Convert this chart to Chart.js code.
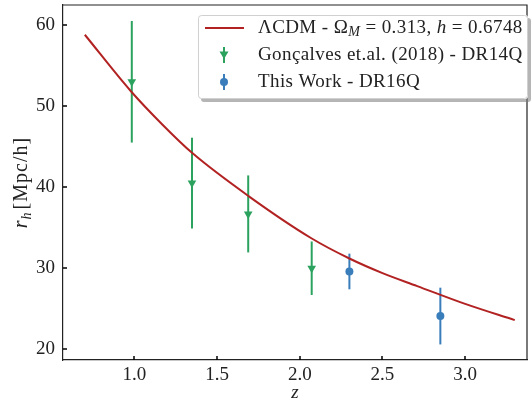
<!DOCTYPE html>
<html><head><meta charset="utf-8">
<script src="https://cdn.jsdelivr.net/npm/chart.js@4/dist/chart.umd.min.js"></script>
<style>html,body{margin:0;padding:0;background:#fff}#wrap{width:532px;height:403px}</style>
</head><body><div id="wrap"><canvas id="c" width="532" height="403"></canvas></div>
<script>
// ΛCDM model curve
const modelZ = [0.70, 0.98, 1.17, 1.35, 1.69, 2.07, 2.30, 2.50, 2.71, 3.00, 3.30];
const modelR = [58.8, 51.8, 47.7, 44.2, 38.9, 33.7, 31.2, 29.4, 27.8, 25.6, 23.6];
// Gonçalves et al. (2018) - DR14Q
const dr14Z = [0.984, 1.348, 1.688, 2.072];
const dr14R = [53.0, 40.5, 36.7, 30.0];
const dr14Err = [7.5, 5.6, 4.75, 3.3];
// This work - DR16Q
const dr16Z = [2.30, 2.85];
const dr16R = [29.6, 24.1];
const dr16Err = [2.2, 3.5];
// ticks
const xTicks = [1.0, 1.5, 2.0, 2.5, 3.0];
const yTicks = [20, 30, 40, 50, 60];

const RED = '#b22222', GREEN = '#2ca25f', BLUE = '#3a7dbb';
const FONT = '"Liberation Serif", "DejaVu Serif", serif';

const pts = (xs, ys) => xs.map((x, i) => ({x, y: ys[i]}));

const errPlugin = {
  id: 'errbars',
  beforeDatasetsDraw(chart) {
    const {ctx, scales: {x, y}} = chart;
    ctx.save();
    ctx.lineWidth = 2;
    const draw = (zs, rs, es, col) => {
      ctx.strokeStyle = col;
      zs.forEach((z, i) => {
        const px = x.getPixelForValue(z);
        ctx.beginPath();
        ctx.moveTo(px, y.getPixelForValue(rs[i] + es[i]));
        ctx.lineTo(px, y.getPixelForValue(rs[i] - es[i]));
        ctx.stroke();
      });
    };
    draw(dr14Z, dr14R, dr14Err, GREEN);
    draw(dr16Z, dr16R, dr16Err, BLUE);
    ctx.restore();
  },
  afterDraw(chart) {
    const {ctx, scales: {x, y}, chartArea: ca} = chart;
    ctx.save();
    // frame top/right
    ctx.strokeStyle = '#222'; ctx.lineWidth = 1.2;
    ctx.beginPath(); ctx.moveTo(ca.left, ca.top); ctx.lineTo(ca.right, ca.top); ctx.lineTo(ca.right, ca.bottom); ctx.stroke();
    // inward ticks
    ctx.strokeStyle = '#000'; ctx.lineWidth = 1.5;
    xTicks.forEach(v => {
      const px = Math.round(x.getPixelForValue(v));
      ctx.beginPath(); ctx.moveTo(px, ca.bottom); ctx.lineTo(px, ca.bottom - 4); ctx.stroke();
    });
    yTicks.forEach(v => {
      const py = Math.round(y.getPixelForValue(v));
      ctx.beginPath(); ctx.moveTo(ca.left, py); ctx.lineTo(ca.left + 4, py); ctx.stroke();
    });
    // axis titles
    ctx.fillStyle = '#222';
    ctx.textBaseline = 'alphabetic';
    ctx.font = 'italic 19px ' + FONT;
    ctx.textAlign = 'center';
    ctx.fillText('z', (ca.left + ca.right) / 2, 398);
    // y title rotated
    ctx.save();
    ctx.translate(27, (ca.top + ca.bottom) / 2);
    ctx.rotate(-Math.PI / 2);
    ctx.letterSpacing = '1px';
    const parts = [
      {t: 'r', f: 'italic 20px ' + FONT, dy: 0},
      {t: 'h', f: 'italic 14px ' + FONT, dy: 4},
      {t: '[Mpc/h]', f: '20px ' + FONT, dy: 0}
    ];
    let w = 0;
    parts.forEach(p => { ctx.font = p.f; w += ctx.measureText(p.t).width; });
    w += 2;
    let cx = -w / 2;
    ctx.textAlign = 'left';
    parts.forEach((p, i) => {
      ctx.font = p.f; ctx.fillText(p.t, cx, p.dy);
      cx += ctx.measureText(p.t).width + (i === 1 ? 2 : 0);
    });
    ctx.restore();

    // legend
    const bx = 198, by = 15, bw = 330, bh = 84;
    const rr = (X, Y, W, H, R) => {
      ctx.beginPath();
      ctx.moveTo(X + R, Y); ctx.lineTo(X + W - R, Y); ctx.quadraticCurveTo(X + W, Y, X + W, Y + R);
      ctx.lineTo(X + W, Y + H - R); ctx.quadraticCurveTo(X + W, Y + H, X + W - R, Y + H);
      ctx.lineTo(X + R, Y + H); ctx.quadraticCurveTo(X, Y + H, X, Y + H - R);
      ctx.lineTo(X, Y + R); ctx.quadraticCurveTo(X, Y, X + R, Y); ctx.closePath();
    };
    ctx.fillStyle = 'rgba(120,120,120,0.55)';
    rr(bx + 3, by + 3, bw, bh, 3); ctx.fill();
    ctx.fillStyle = '#fff';
    rr(bx, by, bw, bh, 3); ctx.fill();
    ctx.strokeStyle = '#d0d0d0'; ctx.lineWidth = 1;
    rr(bx + 0.5, by + 0.5, bw - 1, bh - 1, 3); ctx.stroke();

    const rows = [28, 55, 82];
    ctx.strokeStyle = RED; ctx.lineWidth = 2;
    ctx.beginPath(); ctx.moveTo(205, rows[0]); ctx.lineTo(244, rows[0]); ctx.stroke();
    ctx.strokeStyle = GREEN; ctx.lineWidth = 2;
    ctx.beginPath(); ctx.moveTo(224, rows[1] - 8); ctx.lineTo(224, rows[1] + 8); ctx.stroke();
    ctx.fillStyle = GREEN;
    ctx.beginPath(); ctx.moveTo(219.5, rows[1] - 3.5); ctx.lineTo(228.5, rows[1] - 3.5); ctx.lineTo(224, rows[1] + 4); ctx.closePath(); ctx.fill();
    ctx.strokeStyle = BLUE;
    ctx.beginPath(); ctx.moveTo(224, rows[2] - 8); ctx.lineTo(224, rows[2] + 8); ctx.stroke();
    ctx.fillStyle = BLUE;
    ctx.beginPath(); ctx.arc(224, rows[2], 4, 0, Math.PI * 2); ctx.fill();

    ctx.fillStyle = '#222';
    ctx.textAlign = 'left'; ctx.textBaseline = 'middle';
    ctx.letterSpacing = '0.4px';
    const run = (segs, x0, yy) => {
      let xx = x0;
      segs.forEach(s => {
        ctx.font = s.f;
        ctx.fillText(s.t, xx, yy + (s.dy || 0));
        xx += ctx.measureText(s.t).width;
      });
    };
    const R = '19px ' + FONT, I = 'italic 19px ' + FONT, S = 'italic 14px ' + FONT;
    run([{t: 'ΛCDM - Ω', f: R}, {t: 'M', f: S, dy: 4}, {t: ' = 0.313, ', f: R}, {t: 'h', f: I}, {t: ' = 0.6748', f: R}], 258, rows[0]);
    run([{t: 'Gonçalves et.al. (2018) - DR14Q', f: R}], 258, rows[1]);
    run([{t: 'This Work - DR16Q', f: R}], 258, rows[2]);
    ctx.restore();
  }
};

new Chart(document.getElementById('c'), {
  type: 'scatter',
  data: {
    datasets: [
      {label: 'model', type: 'line', data: pts(modelZ, modelR), borderColor: RED, borderWidth: 2,
       pointRadius: 0, fill: false, cubicInterpolationMode: 'monotone'},
      {label: 'DR14Q', data: pts(dr14Z, dr14R), pointStyle: 'triangle', rotation: 180,
       pointRadius: 5, backgroundColor: GREEN, borderColor: GREEN, borderWidth: 0},
      {label: 'DR16Q', data: pts(dr16Z, dr16R), pointStyle: 'circle',
       pointRadius: 4, backgroundColor: BLUE, borderColor: BLUE, borderWidth: 0}
    ]
  },
  options: {
    responsive: false, animation: false, devicePixelRatio: 1,
    layout: {padding: {top: 5, right: 1, left: 0, bottom: 0}},
    plugins: {legend: {display: false}, tooltip: {enabled: false}},
    scales: {
      x: {type: 'linear', min: 0.568, max: 3.374,
        afterBuildTicks: s => { s.ticks = xTicks.map(v => ({value: v})); },
        afterFit: s => { s.height = 43; s.paddingLeft = 0; s.paddingRight = 0; },
        grid: {display: false, drawTicks: false},
        border: {display: true, color: '#222', width: 1.2},
        ticks: {color: '#222', font: {family: FONT, size: 19}, padding: 4, callback: v => v.toFixed(1)}
      },
      y: {type: 'linear', min: 18.68, max: 62.47,
        afterBuildTicks: s => { s.ticks = yTicks.map(v => ({value: v})); },
        afterFit: s => { s.width = 63; s.paddingTop = 0; s.paddingBottom = 0; },
        grid: {display: false, drawTicks: false},
        border: {display: true, color: '#222', width: 1.2},
        ticks: {color: '#222', font: {family: FONT, size: 19}, padding: 8, callback: v => String(v)}
      }
    }
  },
  plugins: [errPlugin]
});
</script></body></html>
